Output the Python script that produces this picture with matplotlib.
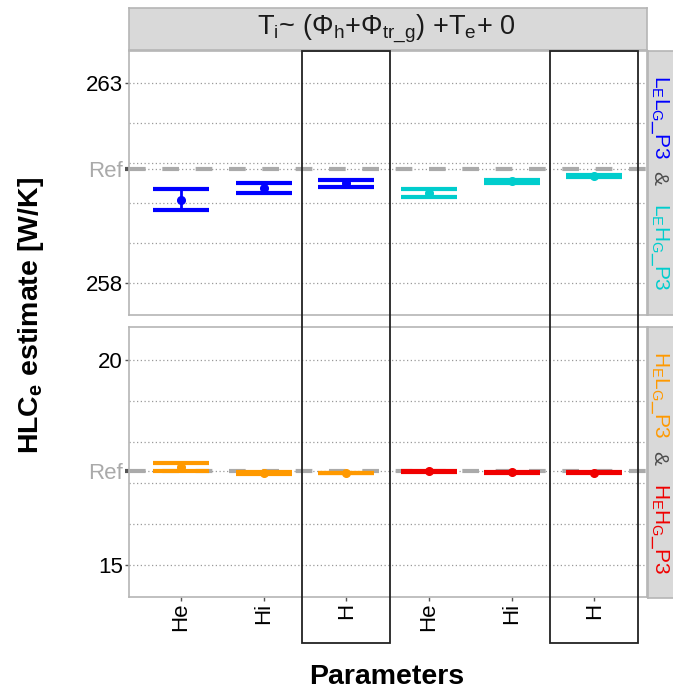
import matplotlib
matplotlib.use("Agg")
from matplotlib import pyplot as plt
from matplotlib.patches import Rectangle
from matplotlib.transforms import blended_transform_factory

plt.rcParams['font.family'] = ['Liberation Sans', 'DejaVu Sans']

# x categories (two series of three parameters each per panel)
params = ['He', 'Hi', 'H', 'He', 'Hi', 'H']

# top panel: LELG_P3 (blue) and LEHG_P3 (cyan)
ref_top = 260.84
lelg_mid = [260.08, 260.38, 260.49]
lelg_lo = [259.83, 260.26, 260.39]
lelg_hi = [260.35, 260.49, 260.58]
lehg_mid = [260.24, 260.55, 260.67]
lehg_lo = [260.15, 260.51, 260.64]
lehg_hi = [260.34, 260.58, 260.71]

# bottom panel: HELG_P3 (orange) and HEHG_P3 (red)
ref_bot = 17.29
helg_mid = [17.39, 17.24, 17.24]
helg_lo = [17.30, 17.21, 17.235]
helg_hi = [17.475, 17.27, 17.245]
hehg_mid = [17.29, 17.26, 17.25]
hehg_lo = [17.27, 17.25, 17.24]
hehg_hi = [17.30, 17.27, 17.26]

# highlighted parameter columns
boxed = [3, 6]

W, H = 673, 693
fig = plt.figure(figsize=(W / 100, H / 100), dpi=100)


def fx(px):
    return px / W


def fy(px):
    return 1 - px / H


left, right = 129, 647
ax_top = fig.add_axes([fx(left), fy(315), fx(right - left), (315 - 51) / H])
ax_bot = fig.add_axes([fx(left), fy(597), fx(right - left), (597 - 327) / H])

xs = list(range(1, 7))
grid_col = '#9a9a9a'


def draw_series(ax, x, mid, lo, hi, color):
    yerr = [[m - l for m, l in zip(mid, lo)], [h - m for m, h in zip(mid, hi)]]
    ax.errorbar(x, mid, yerr=yerr, fmt='o', color=color, ms=5.5, elinewidth=2,
                capsize=20.5, capthick=3, zorder=5)


def style_panel(ax, ylim, major, minor, ref):
    ax.set_xlim(0.37, 6.64)
    ax.set_ylim(*ylim)
    for v in minor + major + [ref]:
        ax.axhline(v, color=grid_col, lw=0.9, ls=(0, (1, 2)), zorder=1)
    ax.axhline(ref, color='#aaaaaa', lw=3, ls=(0, (4, 4)), zorder=2)
    ticks = [major[0], ref, major[1]]
    ax.set_yticks(ticks)
    ax.set_yticklabels([str(major[0]), 'Ref', str(major[1])], fontsize=16)
    ax.get_yticklabels()[1].set_color('#aaaaaa')
    ax.tick_params(axis='y', length=3, width=1, color='#555555', pad=1.5)
    ax.yaxis.get_major_ticks()[1].tick1line.set_color('#aaaaaa')
    ax.yaxis.get_major_ticks()[1].tick1line.set_markeredgewidth(3)
    for s in ax.spines.values():
        s.set_color('#b5b5b5')
        s.set_linewidth(1.2)


draw_series(ax_top, xs[:3], lelg_mid, lelg_lo, lelg_hi, '#0000ff')
draw_series(ax_top, xs[3:], lehg_mid, lehg_lo, lehg_hi, '#00cdcd')
style_panel(ax_top, (257.2, 263.8), [258, 263], [259, 260, 261, 262], ref_top)
ax_top.set_xticks([])

draw_series(ax_bot, xs[:3], helg_mid, helg_lo, helg_hi, '#ff9900')
draw_series(ax_bot, xs[3:], hehg_mid, hehg_lo, hehg_hi, '#f00000')
style_panel(ax_bot, (14.22, 20.8), [15, 20], [16, 17, 18, 19], ref_bot)
ax_bot.set_xticks(xs)
ax_bot.set_xticklabels(params, rotation=90, fontsize=16, va='top')
ax_bot.tick_params(axis='x', length=3, width=1, color='#555555', pad=1)

# black boxes spanning both panels and the tick labels
tr = blended_transform_factory(ax_bot.transData, fig.transFigure)
for b in boxed:
    fig.add_artist(Rectangle((b - 0.53, fy(643)), 1.06, (643 - 51) / H,
                             transform=tr, fill=False, ec='#222222', lw=1.3,
                             zorder=10))

# top facet strip
strip = fig.add_axes([fx(left), fy(50), fx(right - left), 42 / H])
strip.set_facecolor('#d9d9d9')
strip.set_xticks([])
strip.set_yticks([])
for s in strip.spines.values():
    s.set_color('#b5b5b5')
    s.set_linewidth(1.2)
strip.text(0.497, 0.5,
           r'T$_\mathregular{i}$~ (Φ$_\mathregular{h}$+Φ$_\mathregular{tr\_g}$) +T$_\mathregular{e}$+ 0',
           ha='center', va='center', fontsize=19.5, color='#1a1a1a',
           transform=strip.transAxes)

# right facet strips, squeezed into the narrow band left at the figure edge
right_strips = [
    (51, 315, [(r'L$_\mathregular{E}$L$_\mathregular{G}$_P3', '#0000ff'),
               ('&', '#4d4d4d'),
               (r'L$_\mathregular{E}$H$_\mathregular{G}$_P3', '#00cdcd')]),
    (327, 598, [(r'H$_\mathregular{E}$L$_\mathregular{G}$_P3', '#ff9900'),
                ('&', '#4d4d4d'),
                (r'H$_\mathregular{E}$H$_\mathregular{G}$_P3', '#f00000')]),
]
renderer = fig.canvas.get_renderer()
for top, bot, parts in right_strips:
    sax = fig.add_axes([fx(648), fy(bot), fx(40), (bot - top) / H])
    sax.set_facecolor('#d9d9d9')
    sax.set_xticks([])
    sax.set_yticks([])
    for s in sax.spines.values():
        s.set_color('#b5b5b5')
        s.set_linewidth(1.2)
    texts = []
    for s, c in parts:
        t = fig.text(fx(649), fy(top), s, rotation=-90, ha='left', va='top',
                     fontsize=15, color=c)
        texts.append(t)
    exts = [t.get_window_extent(renderer) for t in texts]
    lens = [e.height for e in exts]
    xleft = min(649, 672 - max(e.width for e in exts))
    gaps = [12, 18]
    total = sum(lens) + sum(gaps)
    y = (top + bot) / 2 - total / 2
    for i, (t, ln) in enumerate(zip(texts, lens)):
        t.set_position((fx(xleft), fy(y)))
        y += ln + (gaps[i] if i < len(gaps) else 0)

fig.text(fx(31), fy(316), r'HLC$_\mathregular{e}$ estimate [W/K]', rotation=90,
         ha='center', va='center', fontsize=20.5, fontweight='bold')
fig.text(fx(387), fy(677), 'Parameters', ha='center', va='center',
         fontsize=20.5, fontweight='bold')

fig.savefig('out.png', dpi=100)
